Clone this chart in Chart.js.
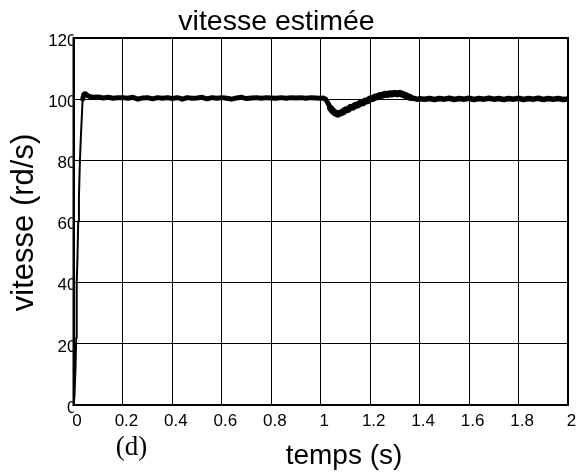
<!DOCTYPE html>
<html>
<head>
<meta charset="utf-8">
<script src="https://cdn.jsdelivr.net/npm/chart.js@4/dist/chart.umd.min.js"></script>
<style>
body { margin: 0; background: #fff; }
#wrap { width: 586px; height: 472px; }
</style>
</head>
<body>
<div id="wrap"><canvas id="chartCanvas" width="586" height="472"></canvas></div>
<script>
// temps (s) et vitesse estimée (rd/s)
const tRise = [0, 0.004, 0.008, 0.011, 0.013, 0.016, 0.019, 0.022, 0.026, 0.03, 0.034, 0.037, 0.042, 0.048];
const vRise = [0, 3, 12, 22, 40, 48, 60, 68, 80, 88, 95, 100, 101.6, 101.8];

const tSteady = [0.06, 0.08, 0.10, 0.12, 0.14, 0.16, 0.18, 0.20, 0.22, 0.24, 0.26, 0.28, 0.30, 0.32, 0.34, 0.36,
    0.38, 0.40, 0.42, 0.44, 0.46, 0.48, 0.50, 0.52, 0.54, 0.56, 0.58, 0.60, 0.62, 0.64, 0.66, 0.68, 0.70, 0.72,
    0.74, 0.76, 0.78, 0.80, 0.82, 0.84, 0.86, 0.88, 0.90, 0.92, 0.94, 0.96, 0.98];
const vSteady = [101.0, 100.6, 100.7, 100.4, 100.6, 100.3, 100.5, 100.5, 100.3, 100.6, 100.0, 100.4, 100.5, 100.1,
    100.5, 100.3, 100.5, 100.2, 100.5, 100.0, 100.5, 100.3, 100.4, 100.6, 100.1, 100.5, 100.3, 100.5, 100.3, 100.0,
    100.4, 100.6, 100.2, 100.4, 100.5, 100.3, 100.5, 100.4, 100.3, 100.5, 100.3, 100.5, 100.4, 100.5, 100.3,
    100.5, 100.4];

const tDip = [1.00, 1.01, 1.02, 1.03, 1.04, 1.05, 1.06, 1.07, 1.08, 1.09, 1.10, 1.11, 1.12, 1.13, 1.14, 1.15,
    1.16, 1.17, 1.18, 1.19, 1.20, 1.21, 1.22, 1.23, 1.24, 1.25, 1.26, 1.27, 1.28, 1.29, 1.30, 1.31, 1.32, 1.33,
    1.34, 1.35, 1.36, 1.37, 1.38, 1.39, 1.40];
const vDip = [100.3, 100.4, 100.0, 98.6, 97.0, 96.0, 95.4, 95.1, 95.5, 95.8, 96.5, 96.6, 97.3, 97.4, 98.0, 98.1,
    98.7, 98.8, 99.4, 99.5, 100.1, 100.2, 100.7, 100.8, 101.2, 101.3, 101.6, 101.5, 101.8, 101.7, 101.9, 101.8,
    101.9, 101.6, 101.3, 100.9, 100.6, 100.3, 100.2, 100.0, 100.1];

const tEnd = [1.42, 1.44, 1.46, 1.48, 1.50, 1.52, 1.54, 1.56, 1.58, 1.60, 1.62, 1.64, 1.66, 1.68, 1.70, 1.72,
    1.74, 1.76, 1.78, 1.80, 1.82, 1.84, 1.86, 1.88, 1.90, 1.92, 1.94, 1.96, 1.98, 2.00];
const vEnd = [100.0, 100.2, 99.9, 100.2, 100.0, 100.3, 99.9, 100.2, 100.0, 100.3, 99.9, 100.2, 100.0, 100.3, 100.0,
    100.2, 99.9, 100.2, 100.0, 100.3, 99.9, 100.2, 100.0, 100.3, 99.9, 100.2, 100.0, 100.2, 99.9, 100.1];

const xTickLabels = ["0", "0.2", "0.4", "0.6", "0.8", "1", "1.2", "1.4", "1.6", "1.8", "2"];
const yTickLabels = ["0", "20", "40", "60", "80", "100", "120"];

const times = [...tRise, ...tSteady, ...tDip, ...tEnd];
const speeds = [...vRise, ...vSteady, ...vDip, ...vEnd];
const points = times.map((t, i) => ({ x: t, y: speeds[i] }));

function segWidth(c) {
    const x = c.p0.parsed.x;
    if (x < 0.036) return 2;
    if (x >= 1.04 && x < 1.36) return 7;
    if (x >= 1.36) return 5.5;
    return 5;
}

const textPlugin = {
    id: "texts",
    afterDraw(chart) {
        const ctx = chart.ctx;
        const area = chart.chartArea;
        ctx.save();
        ctx.strokeStyle = "#000";
        ctx.lineWidth = 2;
        ctx.strokeRect(area.left, area.top, area.right - area.left, area.bottom - area.top);

        ctx.fillStyle = "#000";
        ctx.textAlign = "center";
        ctx.textBaseline = "alphabetic";
        ctx.font = '28.5px "Liberation Sans", Arial, sans-serif';
        ctx.fillText("vitesse estimée", 276.5, 30);

        ctx.font = '28px "Liberation Sans", Arial, sans-serif';
        ctx.fillText("temps (s)", 344, 464);

        ctx.font = '27px "Liberation Serif", "Times New Roman", serif';
        ctx.fillText("(d)", 131.5, 455);

        ctx.translate(33, 222.5);
        ctx.rotate(-Math.PI / 2);
        ctx.font = '31px "Liberation Sans", Arial, sans-serif';
        ctx.fillText("vitesse (rd/s)", 0, 0);
        ctx.restore();
    }
};

const ctx = document.getElementById("chartCanvas").getContext("2d");
const chart = new Chart(ctx, {
    type: "line",
    data: {
        datasets: [{
            label: "vitesse estimée",
            data: points,
            borderColor: "#000",
            borderWidth: 5,
            borderJoinStyle: "round",
            borderCapStyle: "round",
            pointRadius: 0,
            fill: false,
            tension: 0,
            segment: { borderWidth: segWidth }
        }]
    },
    options: {
        responsive: false,
        animation: false,
        layout: { padding: { left: 0, right: 18, top: 38, bottom: 0 } },
        plugins: {
            legend: { display: false },
            tooltip: { enabled: false }
        },
        scales: {
            x: {
                type: "linear",
                min: 0,
                max: 2,
                afterFit: s => { s.height = 67; },
                afterBuildTicks: s => {
                    s.ticks = xTickLabels.map(l => ({ value: parseFloat(l) }));
                },
                ticks: {
                    color: "#000",
                    font: { family: '"Liberation Sans", Arial, sans-serif', size: 17 },
                    padding: 6,
                    labelOffset: 3.5,
                    maxRotation: 0,
                    autoSkip: false,
                    callback: (v, i) => xTickLabels[i]
                },
                grid: { color: "#000", lineWidth: 1, drawTicks: false },
                border: { color: "#000", width: 2 }
            },
            y: {
                min: 0,
                max: 120,
                afterFit: s => { s.width = 73.5; },
                afterBuildTicks: s => {
                    s.ticks = yTickLabels.map(l => ({ value: parseFloat(l) }));
                },
                ticks: {
                    color: "#000",
                    font: { family: '"Liberation Sans", Arial, sans-serif', size: 17 },
                    padding: -3,
                    labelOffset: 3,
                    autoSkip: false,
                    callback: (v, i) => yTickLabels[i]
                },
                grid: { color: "#000", lineWidth: 1, drawTicks: false },
                border: { color: "#000", width: 2 }
            }
        }
    },
    plugins: [textPlugin]
});
</script>
</body>
</html>
